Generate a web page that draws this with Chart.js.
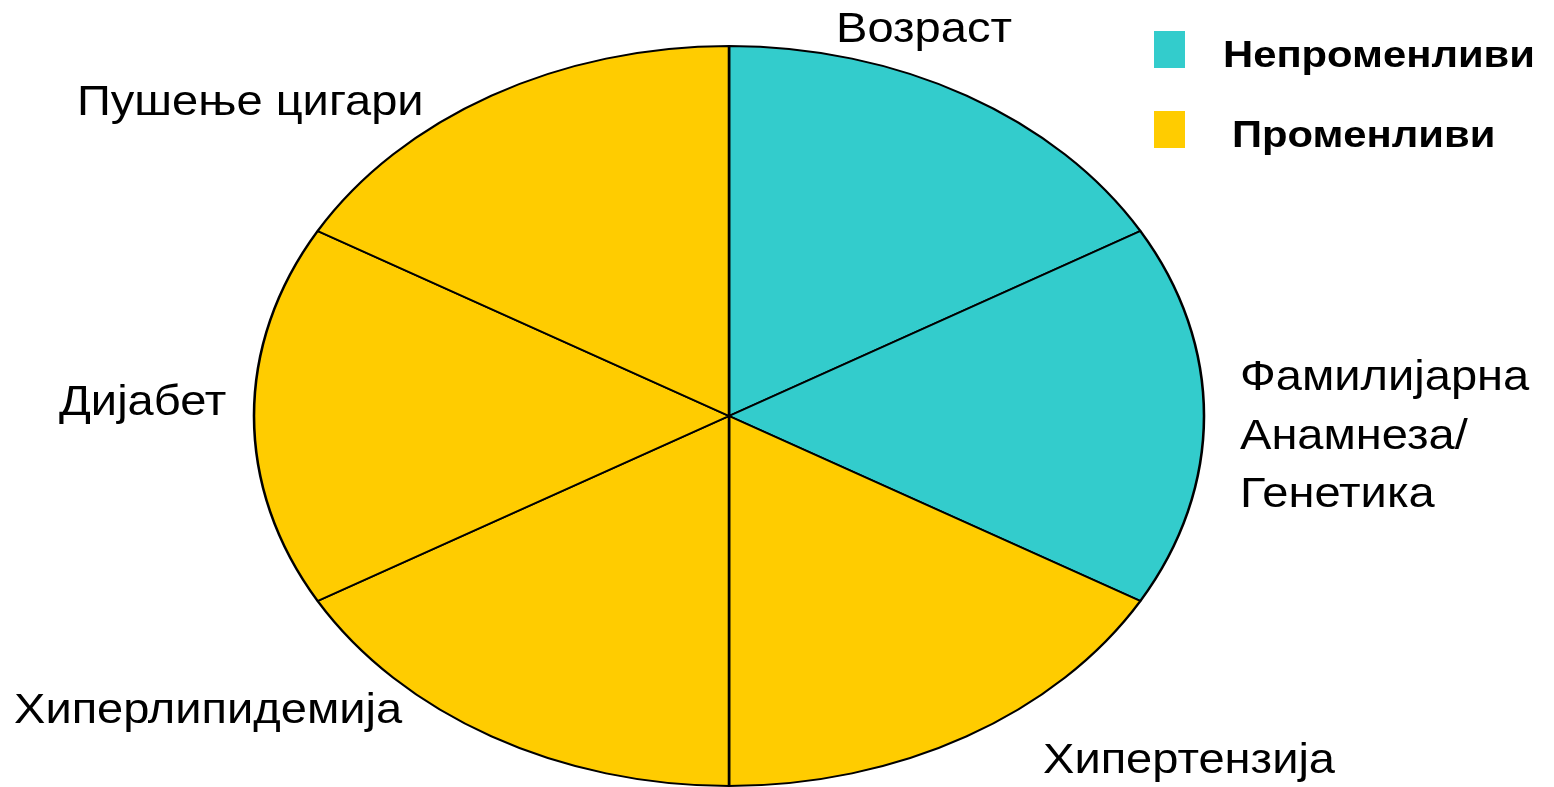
<!DOCTYPE html>
<html>
<head>
<meta charset="utf-8">
<script src="https://cdn.jsdelivr.net/npm/chart.js@4/dist/chart.umd.min.js"></script>
<style>
	html, body { margin: 0; padding: 0; background: #fff; overflow: hidden; }
	canvas { display: block; }
</style>
</head>
<body>
<canvas id="chart" width="1554" height="787"></canvas>
<script>
// slices, clockwise from the top
const factors = ['Возраст', 'Фамилијарна\nАнамнеза/\nГенетика', 'Хипертензија', 'Хиперлипидемија', 'Дијабет', 'Пушење цигари'];
const shares = [1, 1, 1, 1, 1, 1];
const factorGroup = [0, 0, 1, 1, 1, 1];
const groups = ['Непроменливи', 'Променливи'];
const groupColors = ['#33CCCC', '#FFCC00'];

// where each slice name sits (left x, first baseline y)
const labelPos = [[836, 42], [1240, 390], [1043, 773], [14, 723], [59, 415], [77, 115]];

const ELLIPSE_RX = 475;
const TEXT_STRETCH = 1.12;

function stretchedText(ctx, text, x, y, sx) {
	ctx.save();
	ctx.translate(x, y);
	ctx.scale(sx, 1);
	ctx.fillText(text, 0, 0);
	ctx.restore();
}

const ellipsePie = {
	id: 'ellipsePie',
	beforeDatasetsDraw(chart) {
		const arc = chart.getDatasetMeta(0).data[0];
		const ctx = chart.ctx;
		ctx.save();
		ctx.translate(arc.x, arc.y);
		ctx.scale(ELLIPSE_RX / arc.outerRadius, 1);
		ctx.translate(-arc.x, -arc.y);
	},
	afterDatasetsDraw(chart) {
		chart.ctx.restore();
	},
	afterDraw(chart) {
		const ctx = chart.ctx;
		ctx.save();
		ctx.fillStyle = '#000';
		ctx.textAlign = 'left';
		ctx.textBaseline = 'alphabetic';
		ctx.font = '42px "Liberation Sans", Arial, sans-serif';
		factors.forEach((name, i) => {
			name.split('\n').forEach((line, j) => {
				stretchedText(ctx, line, labelPos[i][0], labelPos[i][1] + j * 58.5, TEXT_STRETCH);
			});
		});

		// legend
		ctx.font = 'bold 36px "Liberation Sans", Arial, sans-serif';
		const legendText = [[1223, 67], [1232, 147]];
		const legendBox = [[1154, 31], [1154, 111]];
		groups.forEach((g, i) => {
			ctx.fillStyle = groupColors[i];
			ctx.fillRect(legendBox[i][0], legendBox[i][1], 31, 37);
			ctx.fillStyle = '#000';
			stretchedText(ctx, g, legendText[i][0], legendText[i][1], 1.16);
		});
		ctx.restore();
	}
};

new Chart(document.getElementById('chart'), {
	type: 'pie',
	data: {
		labels: factors,
		datasets: [
			{
				data: shares,
				backgroundColor: factorGroup.map((g) => groupColors[g]),
				borderColor: '#000',
				borderWidth: 2,
			},
		],
	},
	options: {
		responsive: false,
		animation: false,
		layout: { padding: { top: 45, bottom: 0, left: 0, right: 96 } },
		plugins: {
			legend: { display: false },
			tooltip: { enabled: false },
		},
	},
	plugins: [ellipsePie],
});
</script>
</body>
</html>
